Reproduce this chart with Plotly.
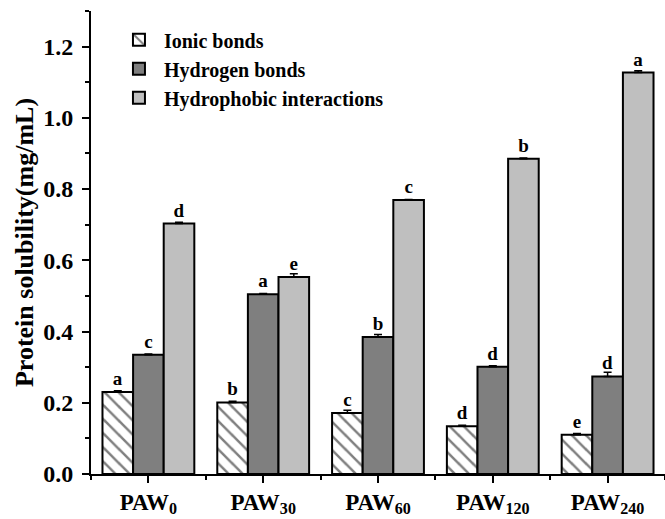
import plotly.graph_objects as go

categories = ["PAW<sub>0</sub>", "PAW<sub>30</sub>", "PAW<sub>60</sub>", "PAW<sub>120</sub>", "PAW<sub>240</sub>"]
series_names = ["Ionic bonds", "Hydrogen bonds", "Hydrophobic interactions"]
ionic = [0.230, 0.201, 0.171, 0.134, 0.110]
hydrogen = [0.335, 0.505, 0.385, 0.301, 0.274]
hydrophobic = [0.703, 0.553, 0.769, 0.885, 1.127]
ionic_err = [0.004, 0.003, 0.008, 0.003, 0.004]
hydrogen_err = [0.002, 0.002, 0.007, 0.003, 0.012]
hydrophobic_err = [0.004, 0.009, 0.002, 0.002, 0.005]
ionic_letters = ["a", "b", "c", "d", "e"]
hydrogen_letters = ["c", "a", "b", "d", "d"]
hydrophobic_letters = ["d", "e", "c", "b", "a"]
y_ticks = [0.0, 0.2, 0.4, 0.6, 0.8, 1.0, 1.2]

FONT = "Liberation Serif"
xpos = list(range(1, len(categories) + 1))

fig = go.Figure()

styles = [
    dict(color="white", pattern=dict(shape="\\", fgcolor="black", bgcolor="white", size=10, solidity=0.25)),
    dict(color="#7f7f7f"),
    dict(color="#bfbfbf"),
]
vals = [ionic, hydrogen, hydrophobic]
errs = [ionic_err, hydrogen_err, hydrophobic_err]
lets = [ionic_letters, hydrogen_letters, hydrophobic_letters]

for name, v, e, l, st in zip(series_names, vals, errs, lets, styles):
    marker = dict(line=dict(color="black", width=2), **st)
    fig.add_trace(go.Bar(
        name=name, x=xpos, y=v, marker=marker,
        error_y=dict(type="data", array=e, arrayminus=[0] * len(e), symmetric=False,
                     color="black", thickness=1.5, width=4),
        text=l, textposition="outside",
        textfont=dict(family=FONT, size=19, color="black", weight="bold"),
        cliponaxis=False,
    ))

fig.update_layout(
    width=665, height=519,
    margin=dict(l=91, r=0, t=11, b=45, autoexpand=False),
    paper_bgcolor="white", plot_bgcolor="white",
    barmode="group", bargap=0.2, bargroupgap=0,
    font=dict(family=FONT, color="black"),
    legend=dict(x=0.04, y=0.98, xanchor="left", yanchor="top",
                font=dict(family=FONT, size=20, color="black", weight="bold"),
                bgcolor="rgba(0,0,0,0)", tracegroupgap=0, itemwidth=40),
    showlegend=True,
    uniformtext=dict(minsize=19, mode="show"),
)

fig.update_xaxes(
    range=[0.5, 5.5], tickmode="array", tickvals=xpos, ticktext=categories,
    showline=True, linecolor="black", linewidth=2,
    ticks="outside", ticklen=7, tickwidth=2, tickcolor="black",
    tickfont=dict(family=FONT, size=23, color="black", weight="bold"),
    ticklabelstandoff=-1,
    minor=dict(tick0=0.5, dtick=1, ticks="outside", ticklen=4, tickwidth=2, tickcolor="black"),
    showgrid=False, zeroline=False, automargin=False,
)
fig.update_yaxes(
    range=[0, 1.3], tickmode="array", tickvals=y_ticks, ticktext=[f"{t:.1f}" for t in y_ticks],
    showline=True, linecolor="black", linewidth=2,
    ticks="outside", ticklen=7, tickwidth=2, tickcolor="black",
    tickfont=dict(family=FONT, size=24, color="black", weight="bold"),
    ticklabelstandoff=4,
    minor=dict(tick0=0, dtick=0.1, ticks="outside", ticklen=4, tickwidth=2, tickcolor="black"),
    title=dict(text="Protein solubility(mg/mL)", font=dict(family=FONT, size=26, color="black", weight="bold"), standoff=2),
    showgrid=False, zeroline=False, automargin=False,
)

fig.write_html("out.html")
